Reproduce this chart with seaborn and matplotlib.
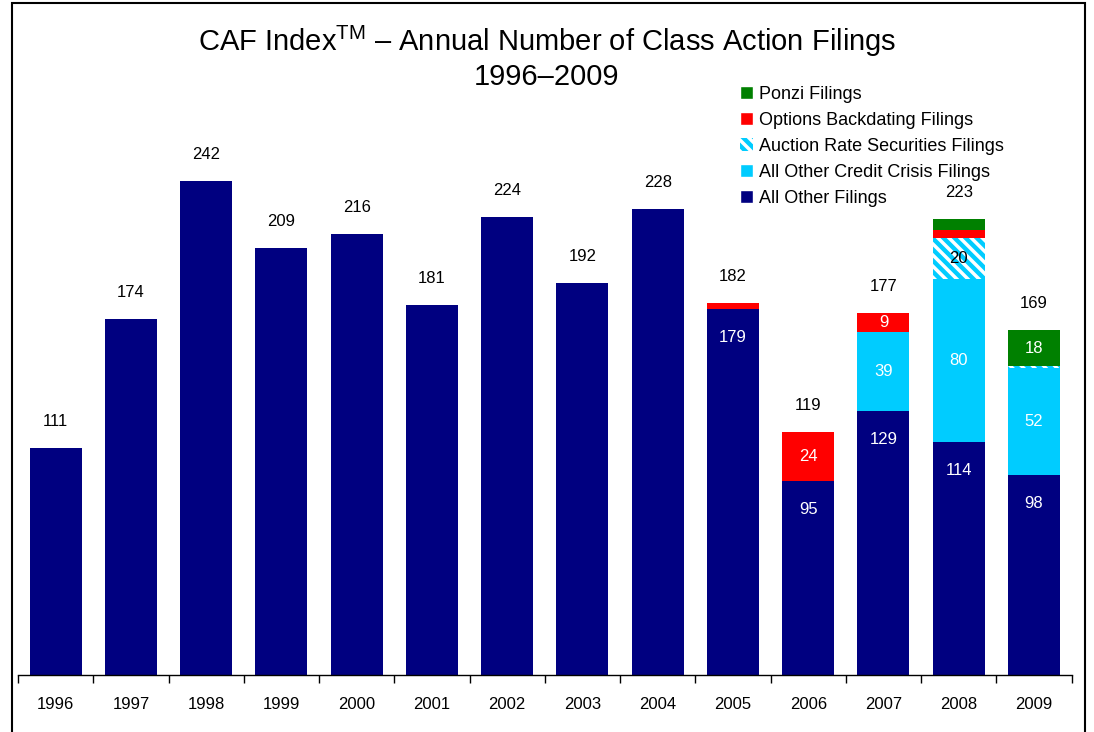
import matplotlib
matplotlib.use("Agg")
import matplotlib.pyplot as plt
import seaborn as sns
import numpy as np
from matplotlib.patches import Patch, Rectangle

years = [str(y) for y in range(1996, 2010)]
other = [111, 174, 242, 209, 216, 181, 224, 192, 228, 179, 95, 129, 114, 98]
credit = [0, 0, 0, 0, 0, 0, 0, 0, 0, 0, 0, 39, 80, 52]
ars = [0, 0, 0, 0, 0, 0, 0, 0, 0, 0, 0, 0, 20, 1]
options = [0, 0, 0, 0, 0, 0, 0, 0, 0, 3, 24, 9, 4, 0]
ponzi = [0, 0, 0, 0, 0, 0, 0, 0, 0, 0, 0, 0, 5, 18]

series_names = ["All Other Filings", "All Other Credit Crisis Filings",
                "Auction Rate Securities Filings", "Options Backdating Filings",
                "Ponzi Filings"]
colors = ["#000080", "#00CCFF", "#00CCFF", "#FF0000", "#008000"]

sns.set_style("white")
plt.rcParams["font.family"] = ["Liberation Sans", "DejaVu Sans"]
plt.rcParams["mathtext.fontset"] = "custom"
plt.rcParams["mathtext.rm"] = "Liberation Sans"
plt.rcParams["hatch.linewidth"] = 2.5
plt.rcParams["text.color"] = "black"
plt.rcParams["xtick.color"] = "black"
plt.rcParams["xtick.labelcolor"] = "black"

fig = plt.figure(figsize=(10.94, 7.32), dpi=100)
ax = fig.add_axes([0.0165, 0.078, 0.963, 0.893])

layers = [other, credit, ars, options, ponzi]
cum = np.cumsum(np.array(layers), axis=0)

# draw cumulative bars from the top layer down so they stack
for i in range(len(layers) - 1, -1, -1):
    sns.barplot(x=years, y=cum[i], color=colors[i], saturation=1, width=0.69,
                linewidth=0, ax=ax, order=years)
    if i == 2:
        for p in ax.containers[-1]:
            p.set_hatch("\\\\\\")
            p.set_edgecolor("white")
            p.set_linewidth(0)

ax.set_xlim(-0.5, 13.5)
ax.set_ylim(0, 320)
ax.set_yticks([])
ax.set_xlabel("")
ax.set_ylabel("")
for s in ["top", "right", "left"]:
    ax.spines[s].set_visible(False)
ax.spines["bottom"].set_color("black")
ax.spines["bottom"].set_linewidth(1)
ax.tick_params(axis="x", which="major", length=0, labelsize=12, pad=16)
ax.set_xticks(np.arange(-0.5, 14, 1), minor=True)
ax.tick_params(axis="x", which="minor", bottom=True, length=6, direction="out",
               color="black", width=1)

lab = dict(ha="center", va="center", fontsize=12)
totals = cum[-1]
for j in range(len(years)):
    ax.text(j, totals[j] + 13, str(int(totals[j])), color="black", **lab)
    if totals[j] != other[j]:
        ax.text(j, other[j] - 14, str(other[j]), color="white", **lab)
    for i in range(1, len(layers)):
        v = layers[i][j]
        if v >= 9:
            mid = cum[i - 1][j] + v / 2
            c = "black" if i == 2 else "white"
            ax.text(j, mid, str(v), color=c, **lab)

handles = [
    Patch(facecolor=colors[4], label=series_names[4]),
    Patch(facecolor=colors[3], label=series_names[3]),
    Patch(facecolor=colors[2], edgecolor="white", hatch="\\\\\\", linewidth=0,
          label=series_names[2]),
    Patch(facecolor=colors[1], label=series_names[1]),
    Patch(facecolor=colors[0], label=series_names[0]),
]
fig.legend(handles=handles, loc="upper left", bbox_to_anchor=(0.676, 0.883),
           frameon=False, fontsize=13, handlelength=0.75, handleheight=0.75,
           handletextpad=0.3, labelspacing=0.5, borderpad=0, borderaxespad=0)

fig.text(0.5, 0.943, r"CAF Index$^{\mathrm{TM}}$ – Annual Number of Class Action Filings",
         ha="center", va="center", fontsize=21)
fig.text(0.5, 0.895, "1996–2009", ha="center", va="center", fontsize=21)

fig.add_artist(Rectangle((0.011, -0.01), 0.981, 1.006, transform=fig.transFigure,
                         fill=False, edgecolor="black", linewidth=1.5))

fig.savefig("out.png", dpi=100)
